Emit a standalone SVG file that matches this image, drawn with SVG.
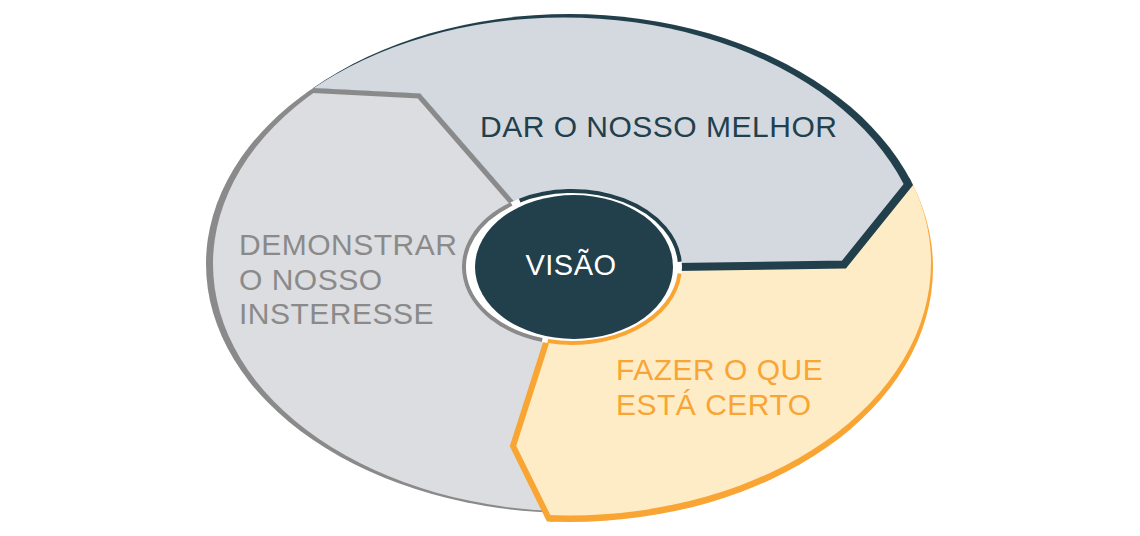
<svg xmlns="http://www.w3.org/2000/svg" width="1140" height="536" viewBox="0 0 1140 536">
<style>
.lbl{font-family:"Liberation Sans",Arial,Helvetica,sans-serif;font-size:30px;letter-spacing:0.5px}
.edge{fill:none;stroke-linejoin:miter;stroke-miterlimit:10}
</style>
<defs>
<clipPath id="cE0"><ellipse cx="569.5" cy="268" rx="363.5" ry="254"/></clipPath>
<clipPath id="cEg"><ellipse cx="572" cy="264" rx="366" ry="249"/></clipPath>
<clipPath id="cBlue"><path d="M200,82.1 L313.1,88 L420.2,93.55 L511.4,198.4 L574,267 L680,267 L844,264.5 L912,180 L956,125.3 L956,0 L200,0 Z"/></clipPath>
<clipPath id="cGray"><path d="M200,84.6 L313,90.5 L419,96 L509.5,200 L574,267 L546,343 L513,446 L549,519 L569,560 L150,560 L150,84.6 Z"/></clipPath>
<clipPath id="cOrange"><path d="M574,267 L680,267 L844,264.5 L912,180 L956,125.3 L1000,125.3 L1000,560 L569,560 L549,519 L513,446 L546,343 Z"/></clipPath>
</defs>

<g id="node-interesse">
  <g clip-path="url(#cEg)">
    <g clip-path="url(#cGray)">
      <rect x="0" y="0" width="1140" height="560" fill="#8a8a8a"/>
      <ellipse cx="575" cy="264" rx="362" ry="247.5" fill="#dcdde0"/>
    </g>
    <polyline class="edge" points="200,84.6 313,90.5 419,96 509.5,200 520,212" stroke="#8a8a8a" stroke-width="5"/>
  </g>
  <text class="lbl" fill="#8a8a8a"><tspan x="239" y="255">DEMONSTRAR</tspan><tspan x="239" y="289.5">O NOSSO</tspan><tspan x="239" y="324">INSTERESSE</tspan></text>
</g>

<g id="node-certo">
  <g clip-path="url(#cE0)">
    <g clip-path="url(#cOrange)">
      <rect x="0" y="0" width="1140" height="560" fill="#f9a533"/>
      <ellipse cx="568.5" cy="262.85" rx="362.5" ry="252.65" fill="#feecc7"/>
    </g>
    <polyline class="edge" points="569,560 549,519 513,446 546,343 549,333.6" stroke="#f9a533" stroke-width="6"/>
  </g>
  <text class="lbl" fill="#f9a533"><tspan x="616" y="380">FAZER O QUE</tspan><tspan x="616" y="415">ESTÁ CERTO</tspan></text>
</g>

<g id="node-melhor">
  <g clip-path="url(#cE0)">
    <g clip-path="url(#cBlue)">
      <rect x="0" y="0" width="1140" height="560" fill="#22404c"/>
      <ellipse cx="564" cy="269.5" rx="361" ry="252" fill="#d3d9df"/>
    </g>
    <polyline class="edge" points="956,125.3 912,180 844,264.5 676,267" stroke="#22404c" stroke-width="8"/>
  </g>
  <text class="lbl" x="480" y="137" fill="#22404c">DAR O NOSSO MELHOR</text>
</g>

<g id="node-visao">
  <ellipse cx="572" cy="267" rx="110" ry="78" fill="#ffffff"/>
  <path d="M519.64,200.53 A108,76 0 0 1 679.74,261.70" fill="none" stroke="#22404c" stroke-width="4"/>
  <path d="M679.59,273.62 A108,76 0 0 1 547.71,341.05" fill="none" stroke="#f9a533" stroke-width="4"/>
  <path d="M542.23,340.06 A108,76 0 0 1 511.61,203.99" fill="none" stroke="#8a8a8a" stroke-width="4"/>
  <ellipse cx="574" cy="267" rx="99" ry="72" fill="#22404c"/>
  <text class="lbl" x="571" y="275" fill="#ffffff" text-anchor="middle" style="font-size:29px">VISÃO</text>
</g>
</svg>
